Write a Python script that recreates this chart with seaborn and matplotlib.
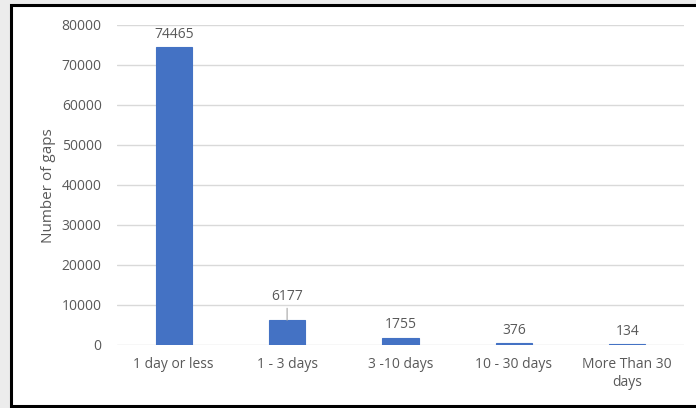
import matplotlib
matplotlib.use("Agg")
import matplotlib.pyplot as plt
import seaborn as sns
import pandas as pd
from matplotlib.patches import Rectangle

categories = ["1 day or less", "1 - 3 days", "3 -10 days", "10 - 30 days", "More Than 30\ndays"]
gap_counts = [74465, 6177, 1755, 376, 134]
y_ticks = [0, 10000, 20000, 30000, 40000, 50000, 60000, 70000, 80000]

bar_color = "#4472C4"
text_color = "#595959"
grid_color = "#D9D9D9"

sns.set_theme(style="white")
plt.rcParams["font.family"] = ["Open Sans", "DejaVu Sans"]

W, H = 696, 408
fig = plt.figure(figsize=(W / 100, H / 100), dpi=100)
fig.patch.set_facecolor("#ECECEC")
# white chart area with a black frame (open on the right), drawn beneath the axes
fig.patches.append(Rectangle((11 / W, 2 / H), 700 / W, 401 / H,
                             transform=fig.transFigure, facecolor="white",
                             edgecolor="black", linewidth=2.2, zorder=-10))

ax = fig.add_axes([117 / W, (H - 345) / H, (684 - 117) / W, 320 / H])
ax.set_zorder(5)
ax.set_facecolor("none")

df = pd.DataFrame({"category": categories, "gaps": gap_counts})
sns.barplot(data=df, x="category", y="gaps", color=bar_color, width=0.32,
            saturation=1, edgecolor=bar_color, linewidth=0.8, ax=ax, zorder=3)

ax.set_ylim(0, 80000)
ax.set_xlim(-0.5, len(categories) - 0.5)
ax.set_yticks(y_ticks)
ax.set_yticklabels([str(v) for v in y_ticks])
ax.yaxis.grid(True, color=grid_color, linewidth=1, zorder=0)
ax.set_axisbelow(True)
for s in ax.spines.values():
    s.set_visible(False)
ax.tick_params(axis="both", length=0, labelsize=10, labelcolor=text_color)
ax.tick_params(axis="y", pad=11)
ax.tick_params(axis="x", pad=9)
ax.set_xlabel("")
ax.set_ylabel("")
fig.text(48 / W, 1 - 186 / H, "Number of gaps", rotation=90, ha="center",
         va="center", fontsize=11, color=text_color)

# value labels; the second one sits higher with a leader line
for i, v in enumerate(gap_counts):
    if i == 1:
        ax.annotate(str(v), xy=(i, v), xytext=(0, 12), textcoords="offset points",
                    ha="center", va="bottom", fontsize=10, color=text_color,
                    arrowprops=dict(arrowstyle="-", color="#A6A6A6", lw=0.8,
                                    shrinkA=1, shrinkB=0))
    else:
        ax.annotate(str(v), xy=(i, v), xytext=(0, 4), textcoords="offset points",
                    ha="center", va="bottom", fontsize=10, color=text_color)

fig.savefig("out.png", dpi=100, facecolor=fig.get_facecolor())
